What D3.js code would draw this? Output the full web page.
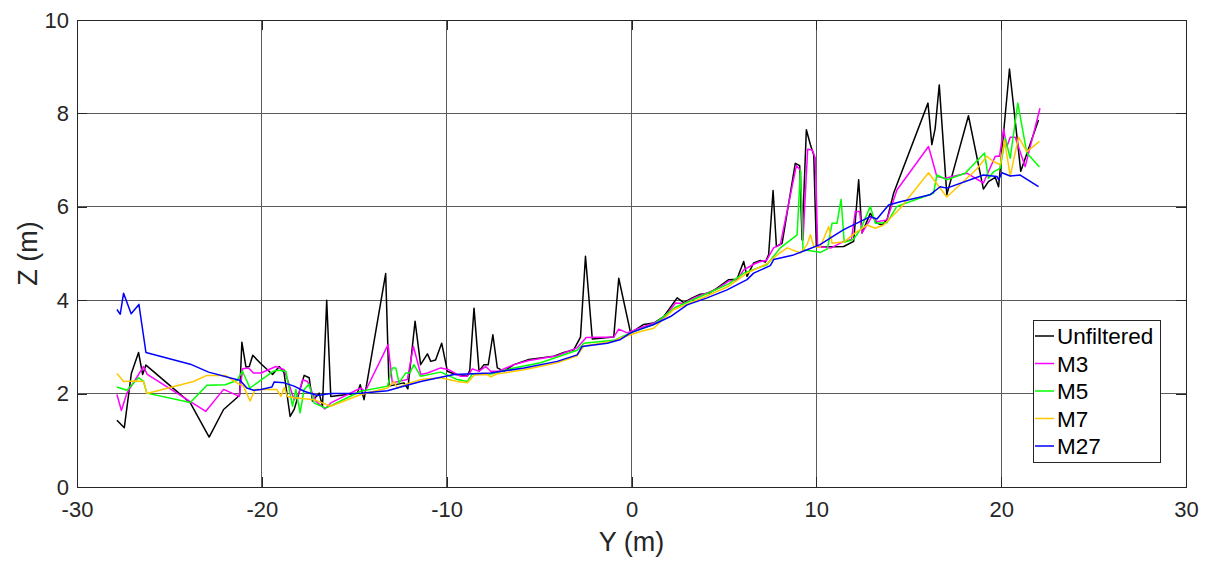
<!DOCTYPE html>
<html>
<head>
<meta charset="utf-8">
<script src="https://cdn.jsdelivr.net/npm/d3@7"></script>
<style>
  html, body { margin: 0; padding: 0; background: #fff; }
  svg { display: block; font-family: "Liberation Sans", Arial, Helvetica, sans-serif; }
</style>
</head>
<body>
<svg id="chart" width="1214" height="563"></svg>
<script>
// ---------- DATA ([Y (m), Z (m)]) ----------
const xTicks = [-30, -20, -10, 0, 10, 20, 30];
const yTicks = [0, 2, 4, 6, 8, 10];
const seriesNames = ["Unfiltered", "M3", "M5", "M7", "M27"];

const unfiltered = [[-27.84,1.43],[-27.44,1.27],[-27.06,2.43],[-26.67,2.88],[-26.45,2.41],[-26.27,2.61],[-23.87,1.80],[-22.85,1.07],[-22.07,1.66],[-21.35,1.91],[-21.2,1.98],[-21.08,3.10],[-20.86,2.57],[-20.68,2.58],[-20.49,2.82],[-20.05,2.64],[-19.42,2.41],[-19.06,2.58],[-18.8,2.45],[-18.47,1.51],[-18.25,1.66],[-18.0,2.0],[-17.71,2.39],[-17.44,2.34],[-17.26,1.84],[-16.9,2.01],[-16.72,1.73],[-16.49,4.0],[-16.27,1.94],[-14.83,2.01],[-14.68,2.19],[-14.47,1.87],[-13.3,4.57],[-13.12,2.16],[-12.31,2.23],[-12.1,2.1],[-11.71,3.55],[-11.41,2.62],[-11.04,2.85],[-10.86,2.69],[-10.6,2.72],[-10.27,3.08],[-9.96,2.48],[-9.51,2.41],[-8.88,2.38],[-8.75,2.5],[-8.52,3.83],[-8.25,2.48],[-7.98,2.62],[-7.75,2.62],[-7.5,3.26],[-7.26,2.55],[-6.9,2.48],[-6.36,2.62],[-5.55,2.73],[-4.92,2.76],[-4.2,2.80],[-3.66,2.88],[-3.12,2.94],[-2.76,3.21],[-2.49,4.94],[-2.12,3.17],[-0.96,3.21],[-0.69,4.47],[-0.05,3.30],[0.66,3.48],[1.2,3.51],[1.75,3.65],[2.47,4.05],[2.83,3.95],[3.28,4.05],[3.73,4.13],[4.2,4.15],[4.63,4.26],[5.26,4.44],[5.7,4.45],[6.07,4.83],[6.25,4.51],[6.61,4.80],[6.97,4.85],[7.25,4.82],[7.42,4.98],[7.66,6.35],[7.84,5.15],[8.15,5.22],[8.86,6.93],[9.1,6.88],[9.23,5.29],[9.46,7.65],[9.68,7.33],[9.86,7.11],[10.0,5.15],[10.5,5.14],[11.48,5.15],[12.02,5.26],[12.29,6.58],[12.47,5.44],[12.92,5.86],[13.28,5.65],[13.55,5.61],[13.82,5.72],[14.18,6.29],[16.04,8.22],[16.25,7.33],[16.43,7.68],[16.65,8.61],[17.06,6.26],[18.23,7.95],[19.04,6.38],[19.31,6.54],[19.68,6.63],[19.86,6.43],[20.45,8.95],[21.06,6.76],[22.02,7.86]];

const m3 = [[-27.84,1.98],[-27.6,1.64],[-27.3,2.01],[-26.4,2.58],[-26.2,2.41],[-23.03,1.62],[-22.07,2.09],[-21.22,1.94],[-21.04,2.53],[-20.72,2.55],[-20.45,2.44],[-20.05,2.44],[-19.24,2.58],[-18.79,2.51],[-18.25,1.87],[-18.0,2.0],[-17.8,2.30],[-17.53,2.26],[-17.08,1.84],[-16.59,1.67],[-16.27,1.80],[-14.65,2.12],[-14.4,2.05],[-13.17,3.05],[-12.94,2.23],[-12.13,2.30],[-11.8,3.01],[-11.4,2.41],[-11.04,2.44],[-10.32,2.55],[-9.87,2.51],[-9.24,2.37],[-8.88,2.37],[-8.61,2.53],[-8.25,2.48],[-7.89,2.58],[-7.62,2.48],[-7.2,2.48],[-6.36,2.62],[-5.55,2.71],[-4.02,2.81],[-2.94,2.98],[-2.45,3.20],[-0.96,3.21],[-0.69,3.38],[-0.23,3.30],[0.49,3.41],[1.2,3.51],[1.75,3.62],[2.38,3.94],[2.83,3.93],[3.28,4.03],[3.73,4.10],[4.63,4.24],[5.26,4.41],[5.7,4.43],[6.07,4.65],[6.61,4.77],[6.97,4.83],[7.3,4.85],[7.69,5.12],[8.05,5.19],[8.92,6.88],[9.14,6.79],[9.28,5.29],[9.53,7.23],[9.77,7.22],[9.95,7.04],[10.07,5.15],[10.8,5.12],[11.48,5.26],[11.9,5.3],[12.11,5.90],[12.34,5.90],[12.47,5.44],[13.01,5.79],[13.28,5.68],[13.82,5.72],[14.36,6.36],[16.07,7.29],[16.52,6.65],[16.97,6.61],[18.14,6.72],[19.04,6.51],[19.68,7.08],[19.91,7.08],[20.13,7.66],[20.31,7.29],[20.49,7.49],[20.76,7.49],[21.3,6.86],[22.1,8.11]];

const m5 = [[-27.84,2.14],[-27.3,2.07],[-26.67,2.34],[-26.4,2.26],[-26.22,2.01],[-23.87,1.81],[-22.97,2.18],[-21.98,2.19],[-21.35,2.28],[-21.05,2.48],[-20.64,2.12],[-19.37,2.48],[-19.1,2.5],[-18.7,2.48],[-18.34,1.73],[-18.16,2.09],[-17.93,1.59],[-17.71,2.09],[-17.45,2.2],[-17.17,1.80],[-16.54,1.69],[-14.65,2.05],[-13.2,2.16],[-12.94,2.55],[-12.75,2.55],[-12.58,2.23],[-12.22,2.44],[-12.0,2.44],[-11.77,2.62],[-11.41,2.37],[-10.32,2.46],[-9.42,2.30],[-8.88,2.26],[-8.61,2.42],[-7.62,2.42],[-6.36,2.55],[-4.92,2.66],[-2.94,2.93],[-2.58,3.08],[-0.96,3.14],[-0.05,3.30],[1.2,3.48],[2.38,3.85],[3.73,4.08],[5.26,4.35],[6.07,4.58],[7.33,4.76],[7.69,4.94],[8.05,5.12],[8.96,5.40],[9.14,6.79],[9.28,5.08],[10.04,5.04],[10.2,5.02],[10.6,5.1],[10.85,5.65],[11.12,5.65],[11.34,6.16],[11.51,5.24],[12.0,5.3],[12.38,5.51],[12.92,6.01],[13.19,5.65],[13.82,5.66],[14.36,6.01],[16.34,6.29],[16.52,6.68],[17.06,6.58],[18.05,6.72],[19.1,7.15],[19.31,6.61],[19.6,6.75],[19.95,6.83],[20.22,7.47],[20.49,7.04],[20.9,8.22],[21.39,7.15],[22.07,6.85]];

const m7 = [[-27.84,2.43],[-27.48,2.26],[-26.9,2.27],[-26.4,2.26],[-26.22,2.0],[-23.7,2.26],[-22.97,2.39],[-21.98,2.39],[-21.35,2.23],[-20.99,2.16],[-20.64,1.84],[-20.36,2.09],[-19.19,2.09],[-18.97,1.94],[-18.79,2.13],[-18.61,1.94],[-18.25,1.91],[-17.17,1.87],[-16.27,1.73],[-14.65,1.98],[-13.2,2.12],[-12.85,2.26],[-12.67,2.12],[-12.2,2.2],[-11.41,2.30],[-10.32,2.34],[-9.42,2.26],[-8.88,2.23],[-8.5,2.4],[-7.8,2.41],[-7.62,2.36],[-7.3,2.42],[-5.82,2.51],[-4.02,2.66],[-2.94,2.81],[-2.58,3.02],[-0.96,3.12],[-0.6,3.19],[0.49,3.33],[1.2,3.40],[2.29,3.80],[3.73,4.03],[5.26,4.30],[6.25,4.58],[7.33,4.78],[7.88,4.97],[8.42,5.12],[9.14,5.01],[9.5,5.19],[9.68,5.40],[9.86,5.15],[10.2,5.13],[10.67,5.58],[10.85,5.22],[11.5,5.25],[12.11,5.44],[12.74,5.61],[13.19,5.54],[13.64,5.61],[14.54,5.97],[16.07,6.73],[17.06,6.21],[18.14,6.61],[18.68,6.81],[19.22,7.08],[19.58,6.97],[19.95,6.90],[20.18,7.43],[20.49,6.66],[20.94,7.49],[21.39,7.18],[22.07,7.40]];

const m27 = [[-27.84,3.80],[-27.66,3.70],[-27.48,4.15],[-27.07,3.71],[-26.65,3.91],[-26.27,2.88],[-23.87,2.63],[-22.88,2.46],[-21.17,2.28],[-20.81,2.12],[-20.45,2.07],[-20.05,2.09],[-19.46,2.14],[-19.33,2.25],[-18.79,2.23],[-18.25,2.16],[-17.71,2.05],[-16.99,1.96],[-16.27,2.0],[-14.65,2.01],[-13.2,2.06],[-12.49,2.14],[-11.4,2.26],[-10.32,2.35],[-9.6,2.41],[-7.62,2.44],[-5.82,2.55],[-4.02,2.69],[-2.94,2.83],[-2.67,3.01],[-1.31,3.08],[-0.59,3.16],[-0.05,3.30],[0.49,3.38],[1.2,3.48],[2.11,3.65],[3.01,3.90],[4.09,4.05],[5.17,4.22],[6.25,4.44],[6.61,4.58],[7.51,4.74],[7.69,4.87],[8.77,4.97],[9.5,5.08],[10.2,5.19],[10.92,5.37],[11.48,5.51],[12.2,5.65],[12.92,5.79],[13.28,5.74],[13.91,6.04],[14.54,6.11],[16.16,6.26],[16.7,6.43],[17.06,6.40],[19.04,6.68],[19.77,6.65],[19.86,6.58],[20.04,6.73],[20.49,6.66],[21.03,6.68],[22.02,6.43]];

// ---------- LAYOUT ----------
const seriesData = [unfiltered, m3, m5, m7, m27];
const colors = ["#000000", "#ff00ff", "#00ff00", "#ffc800", "#0000ff"];

const svg = d3.select("#chart");
const L = 77, R = 1186, T = 20, B = 487;
const x = d3.scaleLinear().domain([-30, 30]).range([L, R]);
const y = d3.scaleLinear().domain([0, 10]).range([B, T]);
const fmt = d => String(d);

// Grid
const grid = svg.append("g");
grid.selectAll("line.gx").data(xTicks).join("line")
  .attr("x1", d => x(d)).attr("x2", d => x(d)).attr("y1", T).attr("y2", B)
  .attr("stroke", "#5a5a5a").attr("stroke-width", 1).attr("shape-rendering", "crispEdges");
grid.selectAll("line.gy").data(yTicks).join("line")
  .attr("y1", d => y(d)).attr("y2", d => y(d)).attr("x1", L).attr("x2", R)
  .attr("stroke", "#5a5a5a").attr("stroke-width", 1).attr("shape-rendering", "crispEdges");

// Lines
const line = d3.line().x(d => x(d[0])).y(d => y(d[1]));
svg.append("g").selectAll("path").data(seriesData).join("path")
  .attr("d", line).attr("fill", "none")
  .attr("stroke", (d, i) => colors[i]).attr("stroke-width", 1.5)
  .attr("stroke-linejoin", "round");

// Axes (MATLAB-like, ticks inward)
const tickLen = 10;
const axB = svg.append("g").attr("transform", `translate(0,${B})`)
  .call(d3.axisBottom(x).tickValues(xTicks).tickFormat(fmt).tickSizeInner(-tickLen).tickSizeOuter(0).tickPadding(14));
const axT = svg.append("g").attr("transform", `translate(0,${T})`)
  .call(d3.axisTop(x).tickValues(xTicks).tickSizeInner(-tickLen).tickSizeOuter(0).tickFormat(""));
const axL = svg.append("g").attr("transform", `translate(${L},0)`)
  .call(d3.axisLeft(y).tickValues(yTicks).tickFormat(fmt).tickSizeInner(-tickLen).tickSizeOuter(0).tickPadding(8));
const axR = svg.append("g").attr("transform", `translate(${R},0)`)
  .call(d3.axisRight(y).tickValues(yTicks).tickSizeInner(-tickLen).tickSizeOuter(0).tickFormat(""));

[axB, axT, axL, axR].forEach(a => {
  a.select(".domain").attr("stroke", "#262626").attr("stroke-width", 1).attr("shape-rendering", "crispEdges");
  a.selectAll(".tick line").attr("stroke", "#262626").attr("shape-rendering", "crispEdges");
  a.selectAll(".tick text").attr("fill", "#262626").attr("font-size", 22)
    .attr("font-family", "'Liberation Sans', Arial, sans-serif");
});
axB.selectAll(".tick text").attr("dy", "0.71em");

// Axis labels
svg.append("text").attr("x", (L + R) / 2).attr("y", 551)
  .attr("text-anchor", "middle").attr("font-size", 27).attr("fill", "#262626")
  .text("Y (m)");
svg.append("text").attr("transform", `translate(37,${(T + B) / 2}) rotate(-90)`)
  .attr("text-anchor", "middle").attr("font-size", 27).attr("fill", "#262626")
  .text("Z (m)");

// Legend
const lg = svg.append("g");
lg.append("rect").attr("x", 1033.5).attr("y", 320.5).attr("width", 127).attr("height", 142)
  .attr("fill", "#fff").attr("stroke", "#262626").attr("stroke-width", 1);
const items = lg.selectAll("g.item").data(seriesNames).join("g")
  .attr("transform", (d, i) => `translate(0,${336 + i * 27.5})`);
items.append("line").attr("x1", 1035).attr("x2", 1054).attr("y1", 0).attr("y2", 0)
  .attr("stroke", (d, i) => colors[i]).attr("stroke-width", 1.5);
items.append("text").attr("x", 1057).attr("y", 0).attr("dy", "0.36em")
  .attr("font-size", 22.5).attr("fill", "#000").text(d => d);
</script>
</body>
</html>
